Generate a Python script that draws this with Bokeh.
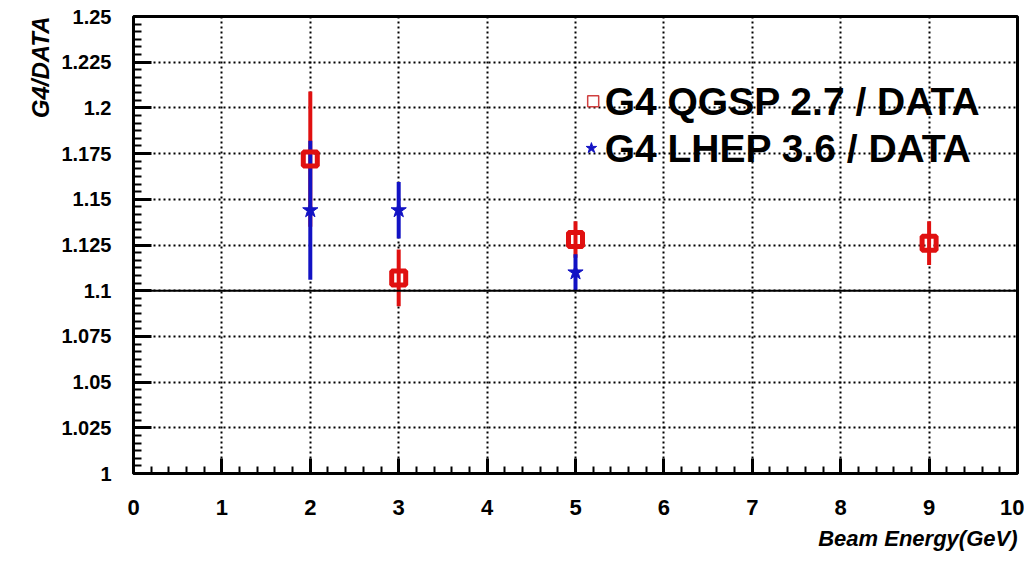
import numpy as np
from bokeh.plotting import figure
from bokeh.models import Range1d, FixedTicker, CustomJSTickFormatter, Label, Span, ColumnDataSource, Title
from bokeh.embed import file_html
from bokeh.resources import INLINE

# ---- data ----
energy_qgsp = [2, 3, 5, 9]
ratio_qgsp = [1.172, 1.107, 1.128, 1.126]
err_qgsp = [0.037, 0.0155, 0.010, 0.012]

energy_lhep = [2, 3, 5]
ratio_lhep = [1.144, 1.144, 1.110]
err_lhep = [0.038, 0.0155, 0.010]

x_ticks = [0, 1, 2, 3, 4, 5, 6, 7, 8, 9, 10]
y_ticks = [1.0, 1.025, 1.05, 1.075, 1.1, 1.125, 1.15, 1.175, 1.2, 1.225, 1.25]

legend_labels = ["G4 QGSP 2.7 / DATA", "G4 LHEP 3.6 / DATA"]
x_title = "Beam Energy(GeV)"
y_title = "G4/DATA"

RED = "#e01010"
BLUE = "#1212c4"

p = figure(width=1024, height=564, output_backend="svg", toolbar_location=None,
           x_range=Range1d(0, 10), y_range=Range1d(1.0, 1.25),
           min_border_left=133, min_border_right=7, min_border_top=16, min_border_bottom=91)
p.background_fill_color = "white"
p.border_fill_color = "white"
p.outline_line_color = "black"
p.outline_line_width = 3

x_minor = [i / 5 for i in range(0, 51) if i % 5 != 0]
y_minor = [1.0 + i * 0.025 / 6 for i in range(0, 61) if i % 6 != 0]
p.xaxis.ticker = FixedTicker(ticks=x_ticks, minor_ticks=x_minor)
p.yaxis.ticker = FixedTicker(ticks=y_ticks, minor_ticks=y_minor)
p.yaxis.formatter = CustomJSTickFormatter(code="""
    let s = tick.toFixed(3);
    s = s.replace(/0+$/, '').replace(/\\.$/, '');
    return s;
""")

for ax in (p.xaxis, p.yaxis):
    ax.axis_line_color = None
    ax.major_tick_out = 0
    ax.minor_tick_out = 0
    ax.major_tick_line_color = "black"
    ax.minor_tick_line_color = "black"
    ax.major_tick_line_width = 3
    ax.minor_tick_line_width = 2
    ax.major_label_text_font = "Liberation Sans"
    ax.major_label_text_font_style = "bold"
    ax.major_label_text_color = "black"

p.yaxis.major_tick_in = 18
p.yaxis.minor_tick_in = 8
p.xaxis.major_tick_in = 15
p.xaxis.minor_tick_in = 7
p.yaxis.major_label_text_font_size = "20px"
p.xaxis.major_label_text_font_size = "22px"
p.yaxis.major_label_standoff = 22
p.xaxis.major_label_standoff = 26

# axis titles as Title annotations aligned to the end of each axis
p.add_layout(Title(text=x_title, align="right", text_font="Liberation Sans",
                   text_font_style="bold italic", text_font_size="22px",
                   text_color="black", standoff=13), "below")
p.add_layout(Title(text=y_title, align="right", text_font="Liberation Sans",
                   text_font_style="bold italic", text_font_size="24px",
                   text_color="black", standoff=9), "left")

for g in (p.xgrid, p.ygrid):
    g.grid_line_color = "black"
    g.grid_line_width = 2
    g.grid_line_dash = "2 3"
    g.grid_line_alpha = 1.0

p.add_layout(Span(location=1.1, dimension="width", line_color="black", line_width=2))

q_src = ColumnDataSource(dict(x=energy_qgsp, y=ratio_qgsp,
                              lo=np.array(ratio_qgsp) - np.array(err_qgsp),
                              hi=np.array(ratio_qgsp) + np.array(err_qgsp)))
l_src = ColumnDataSource(dict(x=energy_lhep, y=ratio_lhep,
                              lo=np.array(ratio_lhep) - np.array(err_lhep),
                              hi=np.array(ratio_lhep) + np.array(err_lhep)))

p.segment(x0="x", y0="lo", x1="x", y1="hi", source=q_src, line_color=RED, line_width=4)
p.segment(x0="x", y0="lo", x1="x", y1="hi", source=l_src, line_color=BLUE, line_width=4)
p.scatter(x="x", y="y", source=q_src, marker="square", size=14, fill_color="white",
          fill_alpha=0.0, line_color=RED, line_width=5)
p.scatter(x="x", y="y", source=l_src, marker="star", size=16, fill_color=BLUE,
          line_color=BLUE, line_width=1)

# legend (drawn manually, no box)
p.scatter(x=[5.2], y=[1.2036], marker="square", size=11, fill_color="white",
          line_color="#d04040", line_width=1.5)
p.scatter(x=[5.18], y=[1.178], marker="star", size=11, fill_color=BLUE,
          line_color=BLUE, line_width=1)
for lbl, yy in zip(legend_labels, [1.2036, 1.178]):
    p.add_layout(Label(x=5.33, y=yy, text=lbl, text_font="Liberation Sans",
                       text_font_style="bold", text_font_size="39px",
                       text_baseline="middle", text_align="left", text_color="black"))

open("out.html", "w").write(file_html(p, INLINE))
